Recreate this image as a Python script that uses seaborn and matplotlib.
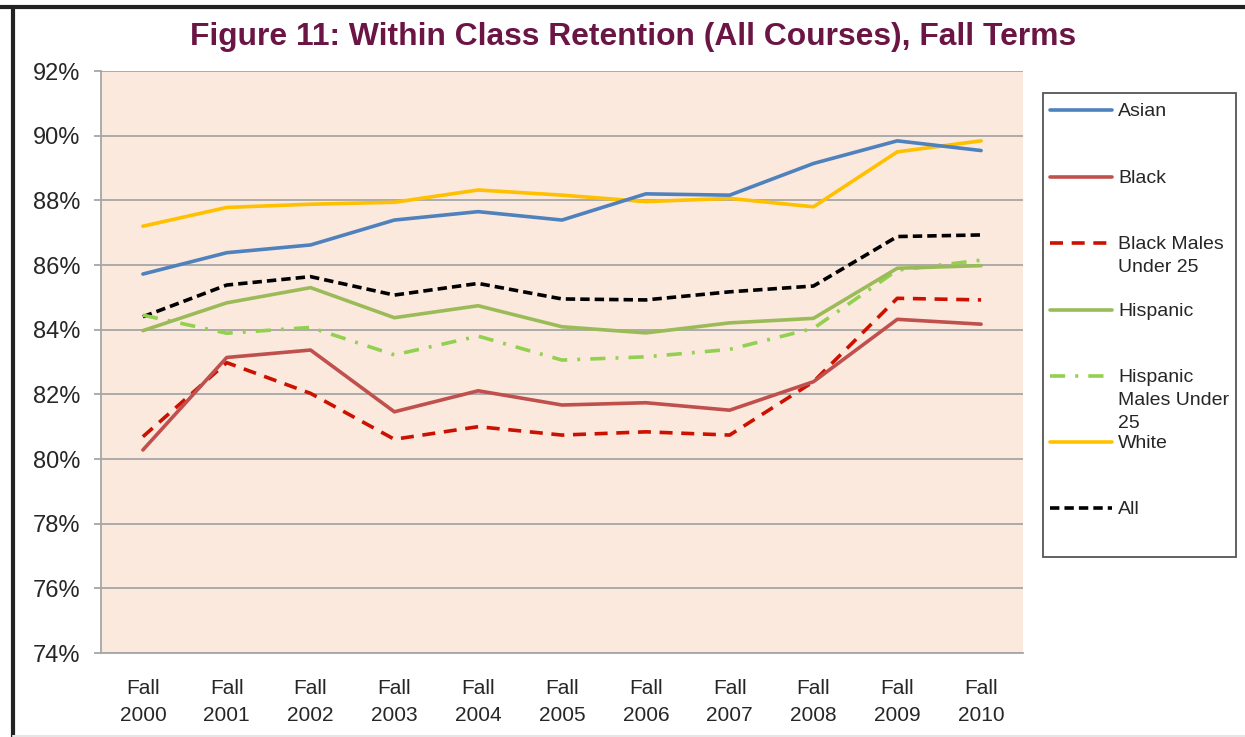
import numpy as np
import pandas as pd
import matplotlib.pyplot as plt
import seaborn as sns
from matplotlib.lines import Line2D
from matplotlib.patches import Rectangle
from matplotlib.ticker import FixedLocator, PercentFormatter

sns.set_style("white")
plt.rcParams['font.family'] = ['Liberation Sans', 'DejaVu Sans']

terms = ["Fall\n2000", "Fall\n2001", "Fall\n2002", "Fall\n2003", "Fall\n2004", "Fall\n2005",
         "Fall\n2006", "Fall\n2007", "Fall\n2008", "Fall\n2009", "Fall\n2010"]

asian = [85.72, 86.38, 86.62, 87.39, 87.65, 87.39, 88.20, 88.16, 89.14, 89.84, 89.54]
black = [80.28, 83.14, 83.37, 81.46, 82.11, 81.67, 81.74, 81.51, 82.39, 84.32, 84.17]
black_males = [80.69, 82.98, 82.03, 80.61, 81.00, 80.74, 80.84, 80.74, 82.39, 84.97, 84.92]
hispanic = [83.97, 84.83, 85.30, 84.37, 84.74, 84.09, 83.90, 84.21, 84.35, 85.90, 85.98]
hispanic_males = [84.45, 83.89, 84.07, 83.22, 83.80, 83.06, 83.16, 83.39, 84.04, 85.84, 86.15]
white = [87.20, 87.78, 87.88, 87.94, 88.32, 88.16, 87.96, 88.06, 87.80, 89.50, 89.84]
all_students = [84.40, 85.38, 85.64, 85.07, 85.43, 84.95, 84.92, 85.17, 85.35, 86.88, 86.93]

series = {
    "Asian": asian,
    "Black": black,
    "Black Males\nUnder 25": black_males,
    "Hispanic": hispanic,
    "Hispanic\nMales Under\n25": hispanic_males,
    "White": white,
    "All": all_students,
}
colors = {
    "Asian": "#4F81BD",
    "Black": "#C0504D",
    "Black Males\nUnder 25": "#CC1100",
    "Hispanic": "#9BBB59",
    "Hispanic\nMales Under\n25": "#92D050",
    "White": "#FFC000",
    "All": "#000000",
}
dashes = {
    "Asian": "",
    "Black": "",
    "Black Males\nUnder 25": (3.6, 2.4),
    "Hispanic": "",
    "Hispanic\nMales Under\n25": (4.2, 2.8, 0.8, 2.8),
    "White": "",
    "All": (2.6, 1.4),
}

rows = []
for name, vals in series.items():
    for t, v in zip(terms, vals):
        rows.append({"term": t, "group": name, "value": v})
df = pd.DataFrame(rows)

W, H = 1245, 737
fig = plt.figure(figsize=(12.45, 7.37), dpi=100)
ax = fig.add_axes([101 / W, 1 - 653 / H, 922 / W, 582 / H])
ax.set_facecolor("#FBE9DD")

# draw back-to-front like the original
order = ["All", "Hispanic\nMales Under\n25", "Hispanic", "Black Males\nUnder 25", "Black", "White", "Asian"]
for name in order:
    sub = df[df["group"] == name]
    sns.lineplot(x=np.arange(len(terms)), y=sub["value"].values, ax=ax, color=colors[name],
                 linewidth=2.6, legend=False, zorder=3)
    if dashes[name]:
        ax.lines[-1].set_dashes(dashes[name])

ax.set_xlim(-0.5, len(terms) - 0.5)
ax.set_ylim(74, 92)
ax.yaxis.set_major_locator(FixedLocator(np.arange(74, 93, 2)))
ax.yaxis.set_major_formatter(PercentFormatter(decimals=0))
ax.grid(axis="y", color="#A6A6A6", linewidth=1.3)
ax.set_axisbelow(True)

ax.set_xticks(np.arange(len(terms)))
ax.set_xticklabels(terms, fontsize=15, linespacing=1.5)
ax.set_xticks(np.arange(-0.5, len(terms)), minor=True)
ax.tick_params(axis="x", which="major", length=0, pad=19)
ax.tick_params(axis="x", which="minor", length=6, color="#A6A6A6", width=1.3)
ax.tick_params(axis="y", length=5, color="#A6A6A6", width=1.3, labelsize=17, pad=10,
               left=True)
for s in ["top", "right"]:
    ax.spines[s].set_visible(False)
for s in ["left", "bottom"]:
    ax.spines[s].set_color("#A6A6A6")
    ax.spines[s].set_linewidth(1.3)
ax.set_xlabel("")
ax.set_ylabel("")

fig.text(633 / W, 1 - 37 / H, "Figure 11: Within Class Retention (All Courses), Fall Terms",
         ha="center", va="center", fontsize=22.9, fontweight="bold", color="#6B1545")

# legend box, Excel style
fig.add_artist(Rectangle((1043 / W, 1 - 557 / H), 193 / W, 464 / H, transform=fig.transFigure,
                         facecolor="white", edgecolor="#555555", linewidth=1.3))
legend_y = [110, 177, 243, 310, 376, 442, 508]
for name, yy in zip(series.keys(), legend_y):
    ln = Line2D([1050 / W, 1112 / W], [1 - yy / H, 1 - yy / H], transform=fig.transFigure,
                color=colors[name], linewidth=2.6)
    if dashes[name]:
        ln.set_dashes(dashes[name])
    fig.add_artist(ln)
    fig.text(1118 / W, 1 - (yy - 7) / H, name, ha="left", va="top", fontsize=14,
             linespacing=1.45)

# outer frame (top and left edges visible)
fig.add_artist(Line2D([0, 1], [1 - 7 / H, 1 - 7 / H], transform=fig.transFigure,
                      color="#222222", linewidth=3))
fig.add_artist(Line2D([12.5 / W, 12.5 / W], [0, 1 - 7 / H], transform=fig.transFigure,
                      color="#222222", linewidth=3))
fig.add_artist(Line2D([12.5 / W, 1], [1.5 / H, 1.5 / H], transform=fig.transFigure,
                      color="#E6E6E6", linewidth=1.5))

fig.savefig("out.png", dpi=100)
